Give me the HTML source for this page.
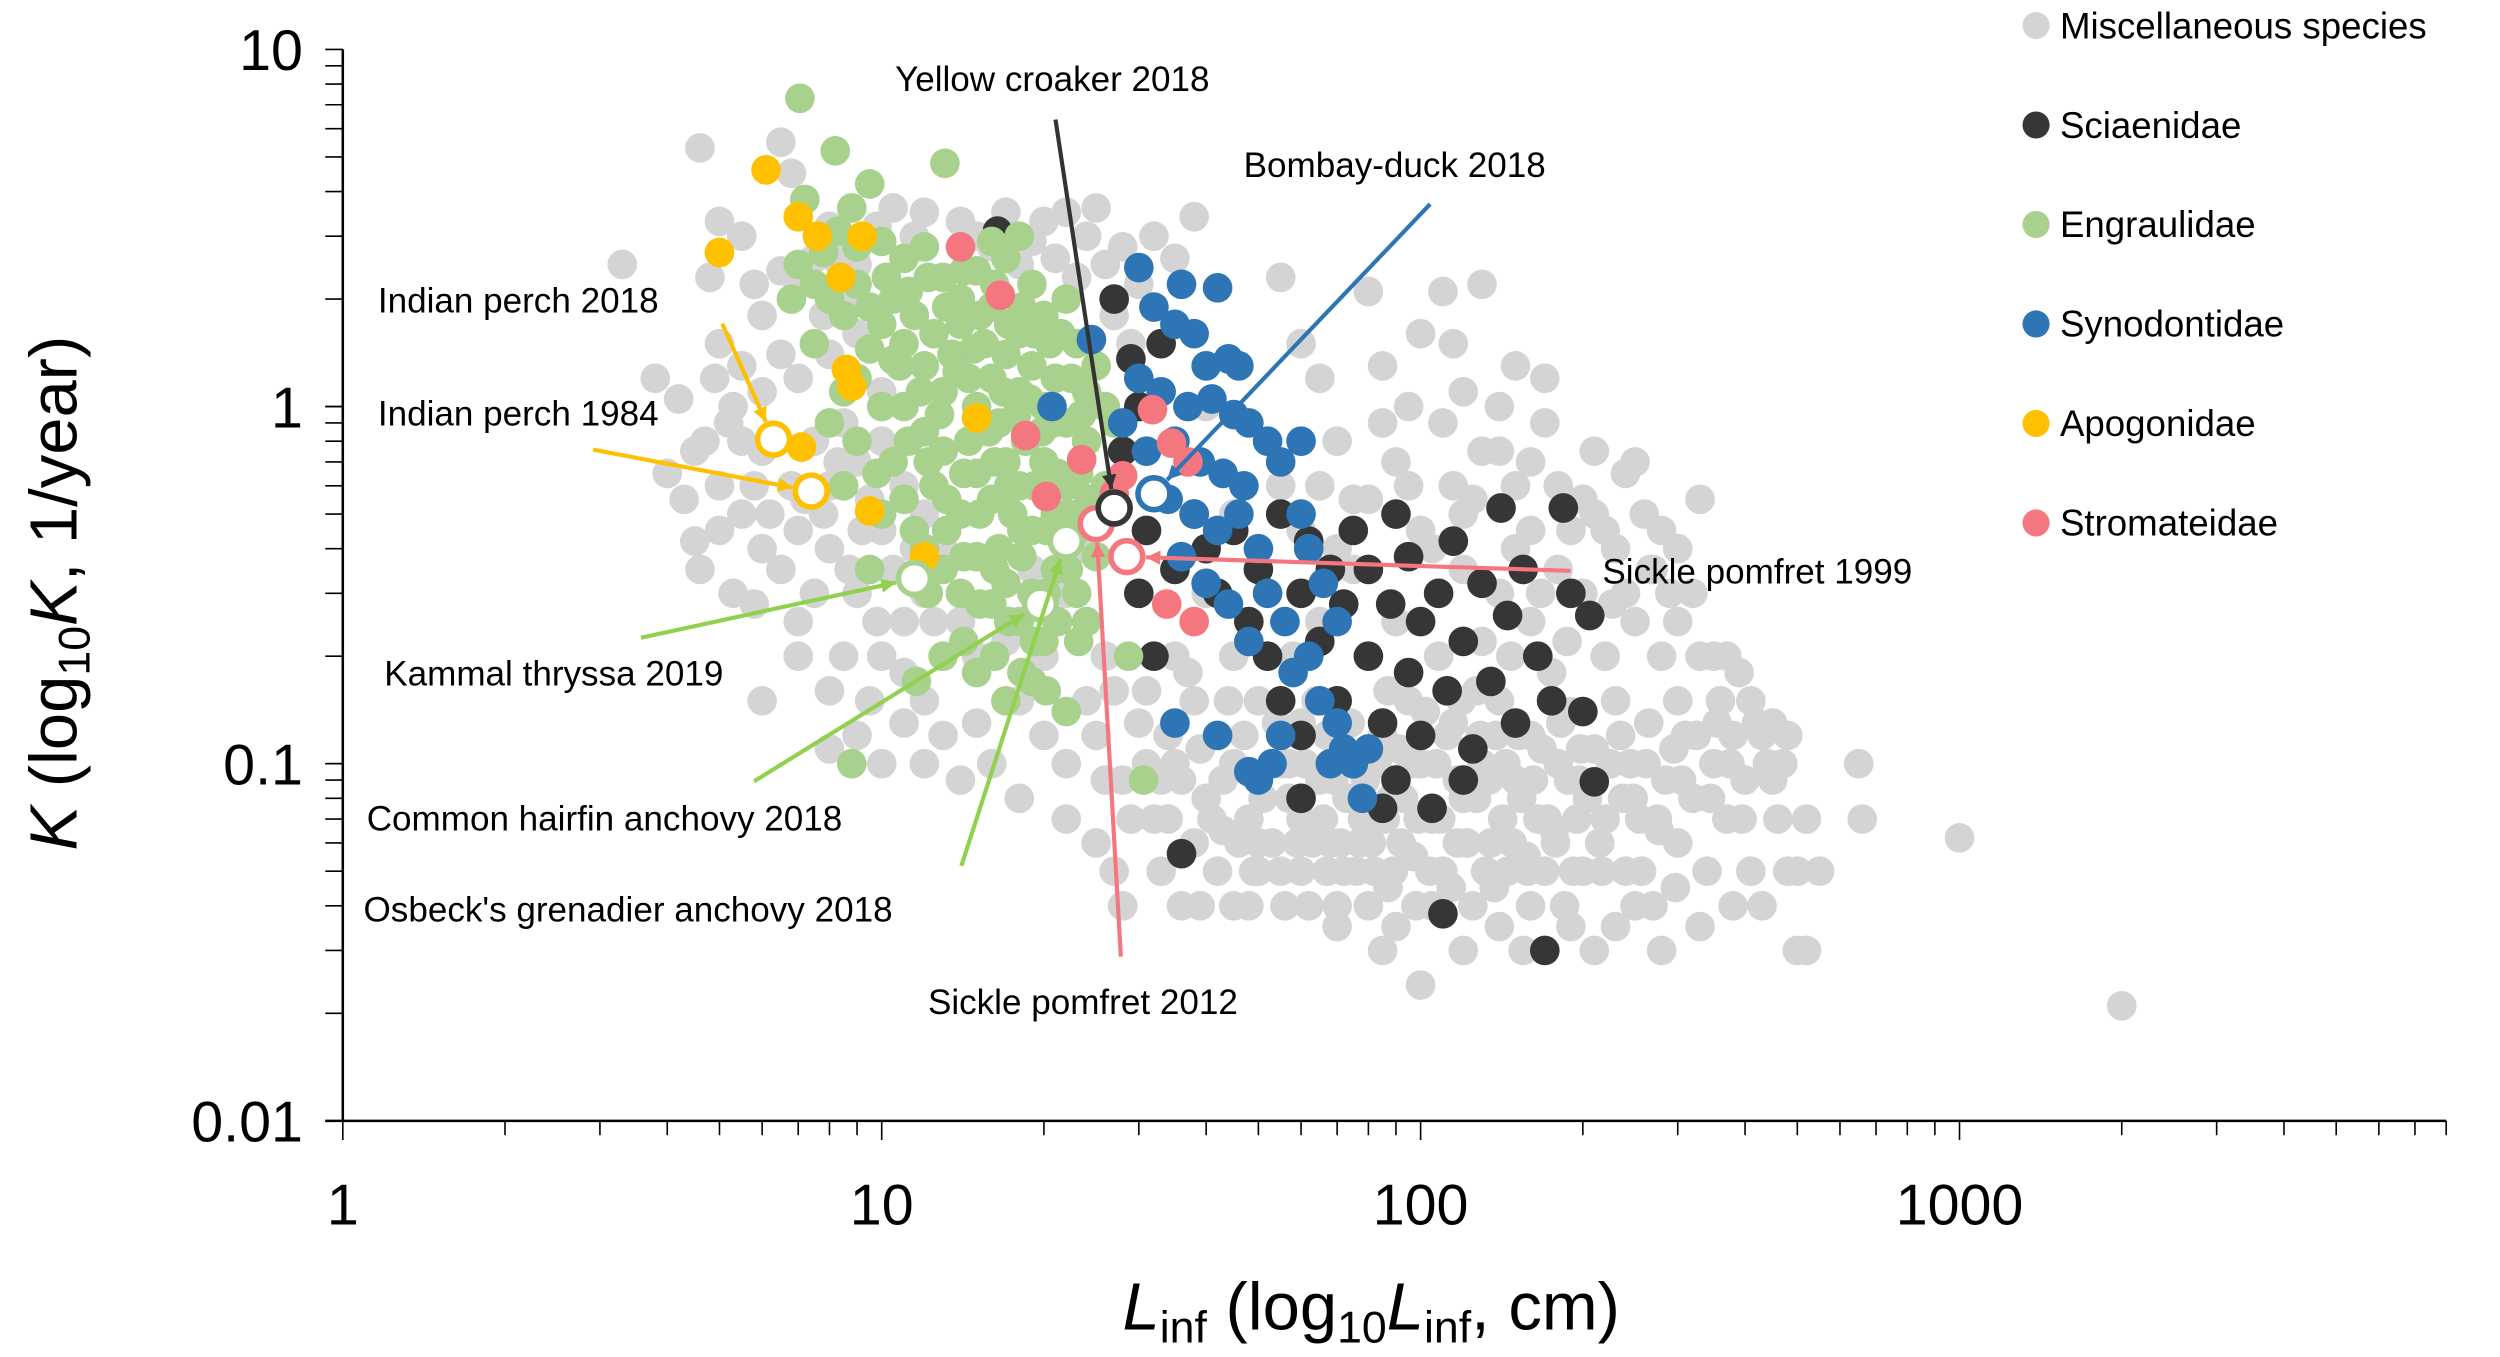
<!DOCTYPE html>
<html><head><meta charset="utf-8"><style>
html,body{margin:0;padding:0;background:#fff}
svg{display:block}
text{font-family:"Liberation Sans",Arial,sans-serif;fill:#000}
</style></head><body>
<svg id="chart" width="2500" height="1357" viewBox="0 0 2500 1357" xmlns="http://www.w3.org/2000/svg">
<g id="root" transform="scale(1.5944)">
  <g id="points"></g>
  <g id="axes"></g>
  <g id="annot"></g>
  <g id="legend"></g>
</g>
</svg>
<script>
const xTickValues=[1,10,100,1000];
const xTickLabels=["1","10","100","1000"];
const yTickValues=[10,1,0.1,0.01];
const yTickLabels=["10","1","0.1","0.01"];
const seriesNames=["Miscellaneous species","Sciaenidae","Engraulidae","Synodontidae","Apogonidae","Stromateidae"];
const seriesColors=["#d4d4d4","#363636","#a9d18e","#2e75b6","#ffc000","#f4777f"];
const misc=[[3.3,2.5],[3.8,1.2],[4.2,1.05],[4.5,0.75],[4.3,0.55],[4.5,0.42],[4.6,5.3],[4.8,2.3],[5,3.3],[5,1.5],[5,0.6],[5,0.45],
[5.5,3],[5.5,1.3],[5.5,0.8],[5.5,0.5],[6,1.8],[6,1.1],[6,0.75],[6,0.4],[6,0.15],[6.5,5.5],[6.5,2.4],[6.5,0.35],[6.8,4.5],[7,2.2],[7,1.2],[7,0.45],[7,0.25],
[7.5,2.6],[7.5,0.8],[7.5,0.3],[8,3.2],[8,1.4],[8,0.6],[8,0.4],[8,0.11],[8.5,2],[8.5,0.9],[8.5,0.2],[9,2.5],[9,1.6],[9,0.7],[9,0.3],[9.5,0.55],[9.5,0.15],[10,1.1],[10,0.8],[10,0.45],[10,0.2],[10,0.1],
[11,0.6],[11,0.25],[11,0.18],[12,3.5],[12,0.5],[12,0.3],[12,0.15],[13,0.4],[13,0.12],[14,3.3],[14,0.25],[14,0.09],[15,0.2],[15,0.13],
[16,2.8],[18,2.5],[20,3.3],[22,3.5],[24,3],[26,2.5],[28,2.8],[30,2.2],[27,1.8],[25,3.6],[35,2.6],[38,3.4],[55,2.3],[80,2.1],[110,2.1],[130,2.2],[100,1.6],[115,1.5],[150,1.3],[170,0.9],[60,1.5],[65,1.2],[85,1.3],[95,1.0],[120,1.1],[140,1.0],
[16,0.1],[18,0.15],[18,0.08],[20,0.12],[20,0.2],[22,0.07],[22,0.1],[24,0.15],[25,0.06],[26,0.2],[28,0.09],[28,0.04],[30,0.13],[30,0.3],[32,0.07],[33,0.05],[35,0.1],[35,0.2],[36,0.04],[38,0.15],[38,0.06],[40,0.08],[40,0.3],[42,0.05],[45,0.1],[45,0.2],[48,0.07],[48,0.04],[50,0.15],[50,0.06],[52,0.3],[55,0.1],[55,0.05],[58,0.2],[60,0.07],[60,0.13],[62,0.04],[65,0.09],[65,0.25],[68,0.06],[70,0.15],[70,0.04],[72,0.05],[75,0.1],[75,0.35],[78,0.07],[80,0.2],[82,0.05],[85,0.12],[85,0.03],[88,0.08],[90,0.25],[92,0.06],[95,0.15],[98,0.04],[100,0.1],[100,0.45],[100,0.024],[105,0.07],[108,0.2],[110,0.05],[115,0.13],[115,0.6],[120,0.08],[120,0.35],[125,0.04],[130,0.1],[130,0.22],[135,0.06],[140,0.15],[140,0.75],[145,0.05],[150,0.09],[150,0.4],[155,0.03],[160,0.12],[160,0.25],[165,0.07],[170,0.05],[175,0.18],[180,0.1],[180,0.6],[185,0.04],[190,0.14],[195,0.07],[200,0.3],[200,0.05],[210,0.11],[210,0.03],[220,0.2],[220,0.07],[230,0.15],[230,0.4],[240,0.05],[245,0.1],[250,0.25],[255,0.07],[260,0.5],[265,0.13],[270,0.04],[280,0.2],[285,0.09],[290,0.3],[300,0.06],[300,0.15],[310,0.12],[320,0.08],[330,0.55],[330,0.2],[340,0.05],[350,0.1],[360,0.15],[370,0.07],[380,0.12],[390,0.18],[400,0.09],[410,0.05],[420,0.13],[440,0.1],[460,0.07],[480,0.05],[480,0.12],[500,0.03],[520,0.03],[650,0.1],[660,0.07],[1000,0.062],[2000,0.021],
[40,1.0],[45,0.5],[55,0.6],[60,0.45],[70,0.8],[75,0.55],[90,0.7],[110,0.9],[125,0.55],[160,0.7],[190,0.45],[210,0.75],[240,0.65],[170,1.2],[130,0.75],
[25,0.12],[27,0.16],[33,0.09],[43,0.065],[57,0.08],[67,0.05],[77,0.06],[87,0.045],[97,0.055],[117,0.06],[137,0.045],[157,0.055],[177,0.065],[197,0.09],[217,0.05],[237,0.08],[257,0.05],[277,0.065],[297,0.045],[127,0.16],[147,0.2],[167,0.3],[187,0.22],[227,0.28],[267,0.35],[17,0.22],[19,0.35],[21,0.25],
[22,0.3],[24,0.4],[26,0.09],[27,0.05],[29,0.07],[31,0.1],[31,0.16],[34,0.07],[34,0.12],[36,0.09],[37,0.18],[39,0.04],[39,0.11],[41,0.07],[43,0.09],[44,0.15],[46,0.06],[47,0.12],[49,0.05],[51,0.08],[53,0.06],[54,0.13],[56,0.04],[57,0.1],[59,0.06],[61,0.1],[63,0.06],[64,0.15],[66,0.07],[67,0.12],[69,0.09],[71,0.06],[73,0.08],[74,0.13],[76,0.05],[79,0.09],[81,0.06],[83,0.1],[86,0.07],[87,0.16],[89,0.05],[91,0.11],[93,0.08],[96,0.1],[99,0.07],[102,0.14],[104,0.05],[107,0.1],[109,0.07],[112,0.12],[114,0.045],[117,0.09],[119,0.15],[122,0.06],[127,0.08],[129,0.12],[132,0.05],[134,0.09],[138,0.12],[142,0.07],[144,0.1],[148,0.06],[152,0.12],[154,0.08],[158,0.05],[162,0.09],[168,0.11],[172,0.07],[178,0.06],[182,0.13],[188,0.09],[192,0.05],[198,0.11],[204,0.08],[215,0.06],[225,0.1],[235,0.12],[248,0.08],[262,0.1],[275,0.07],[295,0.11],[305,0.09],[325,0.12],[345,0.08],[355,0.13],[375,0.1],[395,0.07],[430,0.12],[450,0.09],[470,0.1],[300,0.25],[350,0.2],[270,0.35],[240,0.3],[220,0.45],[200,0.55],[180,0.35],[160,0.45],[140,0.3],[120,0.5],[105,0.4],[95,0.6],[80,0.55],[70,0.4],[65,0.6],[85,0.9],[150,0.6],[210,0.5],[250,0.7],[280,0.45],[300,0.4],[320,0.3],[370,0.2],[410,0.15],[450,0.13],[500,0.05],[520,0.07],[550,0.05],[430,0.04],[380,0.04],[330,0.035],[280,0.03],[250,0.04],[230,0.035],[190,0.035],[160,0.04],[140,0.035],[120,0.03],[105,0.04],[90,0.035],[80,0.04],[70,0.035],[60,0.05],[50,0.05],[45,0.04],[4.7,0.8],[5.2,0.9],[5.8,0.6],[6.2,0.5],[6.8,0.6],[7.2,0.55],[7.8,0.5],[8.3,0.7],[8.7,0.35],[9.2,0.45],[9.8,0.25],[10.5,0.35],[11.5,0.4],[12.5,0.25],[6.5,1.4],[7.8,1.8],[5.8,2.2],[8.2,2.6],[9.8,3.2],[10.5,3.6],[11.5,3.0],[15,3.0],[17,3.5],[19,2.9],[21,2.6],[23,2.3],[29,1.5],[32,3.0],[5.3,1.0],[4.9,1.2],[4,0.65],[4.6,0.35],[5.3,0.3],[5.8,0.28],[9,0.12],[11,0.13],[12,0.1],[7,0.2],[8,0.16]];
const sciaenidae=[[16.4,3.1],[27,2.0],[29,1.36],[30,1.0],[33,1.5],[28,0.75],[31,0.45],[30,0.3],[32,0.2],[35,0.35],[36,0.056],[38,0.5],[40,0.4],[42,0.3],[45,0.45],[48,0.25],[50,0.35],[52,0.2],[55,0.5],[55,0.15],[60,0.3],[60,0.12],[62,0.42],[65,0.22],[68,0.35],[70,0.15],[72,0.28],[75,0.45],[75,0.1],[80,0.2],[80,0.35],[85,0.13],[88,0.28],[90,0.5],[90,0.09],[95,0.18],[95,0.38],[100,0.25],[100,0.12],[105,0.075],[108,0.3],[110,0.038],[112,0.16],[115,0.42],[120,0.22],[125,0.11],[130,0.32],[135,0.17],[141,0.52],[145,0.26],[150,0.13],[155,0.35],[165,0.2],[175,0.15],[184,0.52],[170,0.030],[190,0.3],[206,0.26],[210,0.089],[200,0.14],[120,0.09],[85,0.075],[60,0.08]];
const engraulidae=[[7.05,7.3],[8.2,5.2],[9.5,4.2],[13.1,4.8],[7.2,3.8],[8.8,3.6],[10,2.9],[11,2.6],[12,2.8],[13,2.3],[14,2.0],[15,2.4],[16,1.9],[17,2.6],[18,1.6],[19,2.2],[7,2.5],[7.5,2.2],[8,2.0],[8.5,1.8],[9,2.2],[9.5,1.9],[10,1.7],[10.5,2.0],[11,1.5],[11.5,1.8],[12,1.3],[12.5,1.6],[13,1.1],[13.5,1.4],[14,1.7],[14.5,1.2],[15,1.0],[15.5,1.5],[16,1.2],[16.5,0.9],[17,1.4],[18,1.1],[18.5,0.8],[19,1.3],[20,1.0],[21,1.2],[22,0.9],[23,1.5],[24,1.1],[20,1.8],[22,2.0],[9,1.2],[10,1.0],[8,0.9],[9,0.8],[10.5,0.7],[11,1.0],[12,0.85],[12.5,0.6],[13,0.75],[14,0.5],[14.5,0.8],[15,0.65],[16,0.55],[16.5,0.4],[17,0.7],[17.5,0.5],[18,0.6],[19,0.45],[20,0.7],[21,0.5],[22,0.6],[23,0.45],[24,0.8],[11,0.55],[11.5,0.45],[12,0.4],[13,0.35],[14,0.3],[15,0.38],[16,0.28],[17,0.32],[18,0.25],[19,0.3],[20,0.22],[21,0.35],[23,0.3],[24,0.25],[25,0.38],[26,0.6],[27,0.9],[13,0.2],[15,0.18],[17,0.15],[19,0.17],[11.6,0.17],[8.8,0.1],[30.6,0.09],[28.7,0.2],[22,0.14],[9.5,0.35],[10,0.5],[8.5,0.6],[18,3.0],[16,2.9],[6.8,2.0],[7.5,1.5],[9,2.8],[25,1.3],[26,1.0],
[10.2,2.3],[11.2,2.1],[12.2,2.3],[13.2,1.9],[14.2,2.4],[15.2,1.8],[16.2,2.2],[17.2,1.7],[18.2,1.9],[19.2,1.6],[20.5,1.5],[21.5,1.6],[10.8,1.3],[11.8,1.1],[12.8,0.95],[13.8,1.25],[14.8,1.45],[15.8,0.85],[16.8,1.1],[17.8,0.95],[18.8,1.05],[19.8,0.85],[20.8,0.9],[22.5,1.2],[23.5,0.95],[11.2,0.8],[12.2,0.7],[13.2,0.55],[14.2,0.65],[15.2,0.5],[16.2,0.7],[17.2,0.6],[18.2,0.45],[19.2,0.6],[20.2,0.45],[21.2,0.65],[22.2,0.5],[23.2,0.65],[24.2,0.55],[12.2,0.3],[13.2,0.45],[14.2,0.38],[15.2,0.28],[16.2,0.35],[17.2,0.25],[18.2,0.38],[19.2,0.22],[20.2,0.3],[21.2,0.25],[22.2,0.35],[23.2,0.22],[14.2,0.22],[16.2,0.2],[18.2,0.18],[20.2,0.16],[9.5,1.45],[8.5,1.1],[9.8,0.65],[7.8,2.7],[8.3,3.1],[10.5,1.35]];
const synodontidae=[[30,2.45],[36,2.2],[42,2.15],[44,1.36],[20.7,1.0],[24.5,1.54],[32,1.9],[35,1.7],[38,1.6],[40,1.3],[46,1.3],[30,1.2],[33,1.1],[37,1.0],[41,1.05],[45,0.95],[48,0.9],[52,0.8],[28,0.9],[31,0.75],[35,0.8],[39,0.7],[43,0.65],[47,0.6],[55,0.7],[60,0.8],[34,0.55],[38,0.5],[42,0.45],[46,0.5],[50,0.4],[36,0.38],[40,0.32],[44,0.28],[48,0.22],[52,0.3],[56,0.25],[58,0.18],[62,0.2],[65,0.15],[60,0.5],[66,0.32],[70,0.13],[75,0.1],[78,0.08],[72,0.11],[55,0.12],[53,0.1],[50,0.09],[48,0.095],[42,0.12],[35,0.13],[68,0.1],[80,0.11],[62,0.4],[70,0.25]];
const apogonidae=[[5,2.7],[6.1,4.6],[7,3.4],[7.6,3.0],[9.2,3.0],[8.4,2.3],[8.6,1.27],[8.8,1.14],[15,0.93],[7.1,0.77],[9.5,0.51],[12,0.38]];
const stromateidae=[[14,2.8],[16.6,2.05],[18.5,0.83],[20.2,0.56],[23.5,0.71],[28,0.64],[31.8,0.98],[34.5,0.79],[37,0.7],[33.8,0.28],[38,0.25],[27,0.57]];
const highlightNames=["Indian perch 2018","Indian perch 1984","Kammal thryssa 2019","Common hairfin anchovy 2018","Osbeck's grenadier anchovy 2018","Sickle pomfret 2012","Sickle pomfret 1999","Yellow croaker 2018","Bombay-duck 2018"];
const highlightL=[6.3,7.4,11.5,19.7,22,25,28.5,27,32];
const highlightK=[0.81,0.58,0.33,0.28,0.42,0.47,0.38,0.52,0.57];
const highlightSeries=[4,4,2,2,2,5,5,1,3];

const NS="http://www.w3.org/2000/svg";
function X(L){return 215+338*Math.log10(L);}
function Y(K){return 255-224*Math.log10(K);}
function mk(tag,attrs,parent){const e=document.createElementNS(NS,tag);for(const k in attrs)e.setAttribute(k,attrs[k]);parent.appendChild(e);return e;}

const pts=document.getElementById('points');
const allSeries=[misc,sciaenidae,engraulidae,synodontidae,apogonidae,stromateidae];
allSeries.forEach((s,si)=>{
  s.forEach(p=>{
    const c=mk('circle',{cx:X(p[0]),cy:Y(p[1]),r:9.3,fill:seriesColors[si]},pts);
    
    
  });
});

const ax=document.getElementById('axes');
const yl=mk('line',{x1:215,y1:Y(10),x2:215,y2:Y(0.01),stroke:'#000','stroke-width':1.6},ax);


const xl=mk('line',{x1:204,y1:Y(0.01),x2:X(8000),y2:Y(0.01),stroke:'#000','stroke-width':1.6},ax);


for(let d=-2;d<=0;d++){for(let m=1;m<=10;m++){const v=m*Math.pow(10,d);const t=mk('line',{x1:204,x2:215,y1:Y(v),y2:Y(v),stroke:'#000','stroke-width':1},ax);

}}
for(let d=0;d<=3;d++){for(let m=1;m<=9;m++){const v=m*Math.pow(10,d);if(v>8000)continue;const t=mk('line',{x1:X(v),x2:X(v),y1:Y(0.01),y2:Y(0.01)+(m===1?12:9),stroke:'#000','stroke-width':1},ax);

}}
yTickValues.forEach((v,i)=>{const t=mk('text',{x:190,y:Y(v)+13,'text-anchor':'end','font-size':36},ax);t.textContent=yTickLabels[i];

});
xTickValues.forEach((v,i)=>{const t=mk('text',{x:X(v),y:768,'text-anchor':'middle','font-size':36},ax);t.textContent=xTickLabels[i];

});
</script>
<script>
(function(){
const ax=document.getElementById('axes');
ax.insertAdjacentHTML('beforeend',
 '<text x="860" y="834" text-anchor="middle" font-size="42"><tspan font-style="italic">L</tspan><tspan font-size="28" dy="8">inf</tspan><tspan dy="-8"> (log</tspan><tspan font-size="28" dy="8">10</tspan><tspan font-style="italic" dy="-8">L</tspan><tspan font-size="28" dy="8">inf</tspan><tspan dy="-8">, cm)</tspan></text>'+
 '<text transform="translate(48,372) rotate(-90)" text-anchor="middle" font-size="42"><tspan font-style="italic">K</tspan><tspan> (log</tspan><tspan font-size="28" dy="8">10</tspan><tspan font-style="italic" dy="-8">K</tspan><tspan>, 1/year)</tspan></text>');
})();
(function(){
const an=document.getElementById('annot');
const NS="http://www.w3.org/2000/svg";
function mk(tag,attrs,parent){const e=document.createElementNS(NS,tag);for(const k in attrs)e.setAttribute(k,attrs[k]);parent.appendChild(e);return e;}
function X(L){return 215+338*Math.log10(L);}
function Y(K){return 255-224*Math.log10(K);}
highlightL.forEach((L,i)=>{
  const c=mk('circle',{cx:X(L),cy:Y(highlightK[i]),r:10,fill:'#fff',stroke:seriesColors[highlightSeries[i]],'stroke-width':3.5},an);
  
  
});
const ann=[
 ["Yellow croaker 2018",660,57,'middle',662,75,7,'#333'],
 ["Bombay-duck 2018",780,111,'start',897,128,8,'#2e75b6'],
 ["Indian perch 2018",237,196,'start',453,203,0,'#ffc000'],
 ["Indian perch 1984",237,267,'start',372,282,1,'#ffc000'],
 ["Kammal thryssa 2019",241,430,'start',402,400,2,'#92d050'],
 ["Common hairfin anchovy 2018",230,521,'start',473,490,3,'#92d050'],
 ["Osbeck's grenadier anchovy 2018",228,578,'start',603,543,4,'#92d050'],
 ["Sickle pomfret 2012",582,636,'start',703,600,5,'#f4777f'],
 ["Sickle pomfret 1999",1005,366,'start',985,358,6,'#f4777f']
];
ann.forEach(a=>{
  const tx=X(highlightL[a[6]]), ty=Y(highlightK[a[6]]);
  const dx=tx-a[4], dy=ty-a[5], len=Math.hypot(dx,dy);
  const ex=tx-dx/len*12, ey=ty-dy/len*12;
  const l=mk('line',{x1:a[4],y1:a[5],x2:ex,y2:ey,stroke:a[7],'stroke-width':2.6},an);
  
  
  const ux=dx/len, uy=dy/len;
  const p=mk('polygon',{points:`${ex},${ey} ${ex-ux*9-uy*4.5},${ey-uy*9+ux*4.5} ${ex-ux*9+uy*4.5},${ey-uy*9-ux*4.5}`,fill:a[7]},an);
  
  
  const t=mk('text',{x:a[1],y:a[2],'text-anchor':a[3],'font-size':22},an);
  t.textContent=a[0];
  
  
});
const lg=document.getElementById('legend');
seriesNames.forEach((n,i)=>{
  const y=16+i*62.4;
  const c=mk('circle',{cx:1277,cy:y,r:8.5,fill:seriesColors[i]},lg);
  
  
  const t=mk('text',{x:1292,y:y+8,'font-size':23},lg);
  t.textContent=n;
  
  
});
})();
</script>
</body></html>
